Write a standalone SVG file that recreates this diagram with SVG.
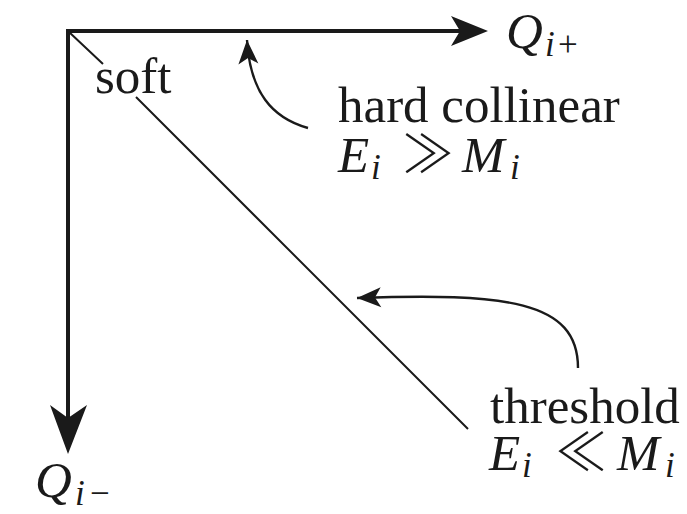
<svg xmlns="http://www.w3.org/2000/svg" width="687" height="514" viewBox="0 0 687 514">
<style>
.t{font-family:'Liberation Serif','DejaVu Serif',serif;font-size:51px;fill:#1a1a1a}
.m{font-style:italic}
.s{font-size:35px}
.rel{font-family:'Noto Sans CJK JP','DejaVu Sans',sans-serif;font-weight:300;font-size:52px}
.ax{stroke:#1a1a1a;stroke-width:4;fill:none}
.cv{stroke:#1a1a1a;stroke-width:2.4;fill:none}
.ah{fill:#1a1a1a}
</style>
<defs>
<marker id="arr" markerUnits="userSpaceOnUse" markerWidth="30" markerHeight="24" viewBox="-26 -12 30 24" refX="0" refY="0" orient="auto">
<path d="M0,0 L-24,-10 L-18,0 L-24,10 Z" fill="#1a1a1a"/>
</marker>
</defs>
<g id="connectors">
<path class="ax" d="M68,31 H462"/>
<path class="ah" d="M488,31 L451,16 L460,31 L451,46 Z"/>
<path class="ax" d="M68,29 V420"/>
<path class="ah" d="M68,454 L50,405 L68,418 L87,405 Z"/>
<path d="M69,32 L103,64 M136,97 L468,429" stroke="#1a1a1a" stroke-width="2" fill="none"/>
<path class="cv" d="M308,128 C272,118 250,92 247,40" marker-end="url(#arr)"/>
<path class="cv" d="M578,368 C578,300 505,293 357,298" marker-end="url(#arr)"/>
</g>
<g id="soft"><text class="t" x="95" y="93">soft</text></g>
<g id="qplus"><text class="t" y="48"><tspan class="m" x="506">Q</tspan><tspan class="s m" x="545" dy="8">i</tspan><tspan class="s" x="558">+</tspan></text></g>
<g id="qminus"><text class="t" y="497"><tspan class="m" x="35">Q</tspan><tspan class="s m" x="75" dy="8">i</tspan><tspan class="s" x="90">−</tspan></text></g>
<g id="hard">
<text class="t" x="338" y="122">hard collinear</text>
<text class="t" y="172"><tspan class="m" x="338">E</tspan><tspan class="s m" x="371" dy="7">i</tspan><tspan class="rel" x="402" dy="-6">≫</tspan><tspan class="m" x="462" dy="-1">M</tspan><tspan class="s m" x="510" dy="7">i</tspan></text>
</g>
<g id="threshold">
<text class="t" x="490" y="423">threshold</text>
<text class="t" y="470"><tspan class="m" x="489">E</tspan><tspan class="s m" x="522" dy="7">i</tspan><tspan class="rel" x="555" dy="-6">≪</tspan><tspan class="m" x="617" dy="-1">M</tspan><tspan class="s m" x="665" dy="7">i</tspan></text>
</g>
</svg>
